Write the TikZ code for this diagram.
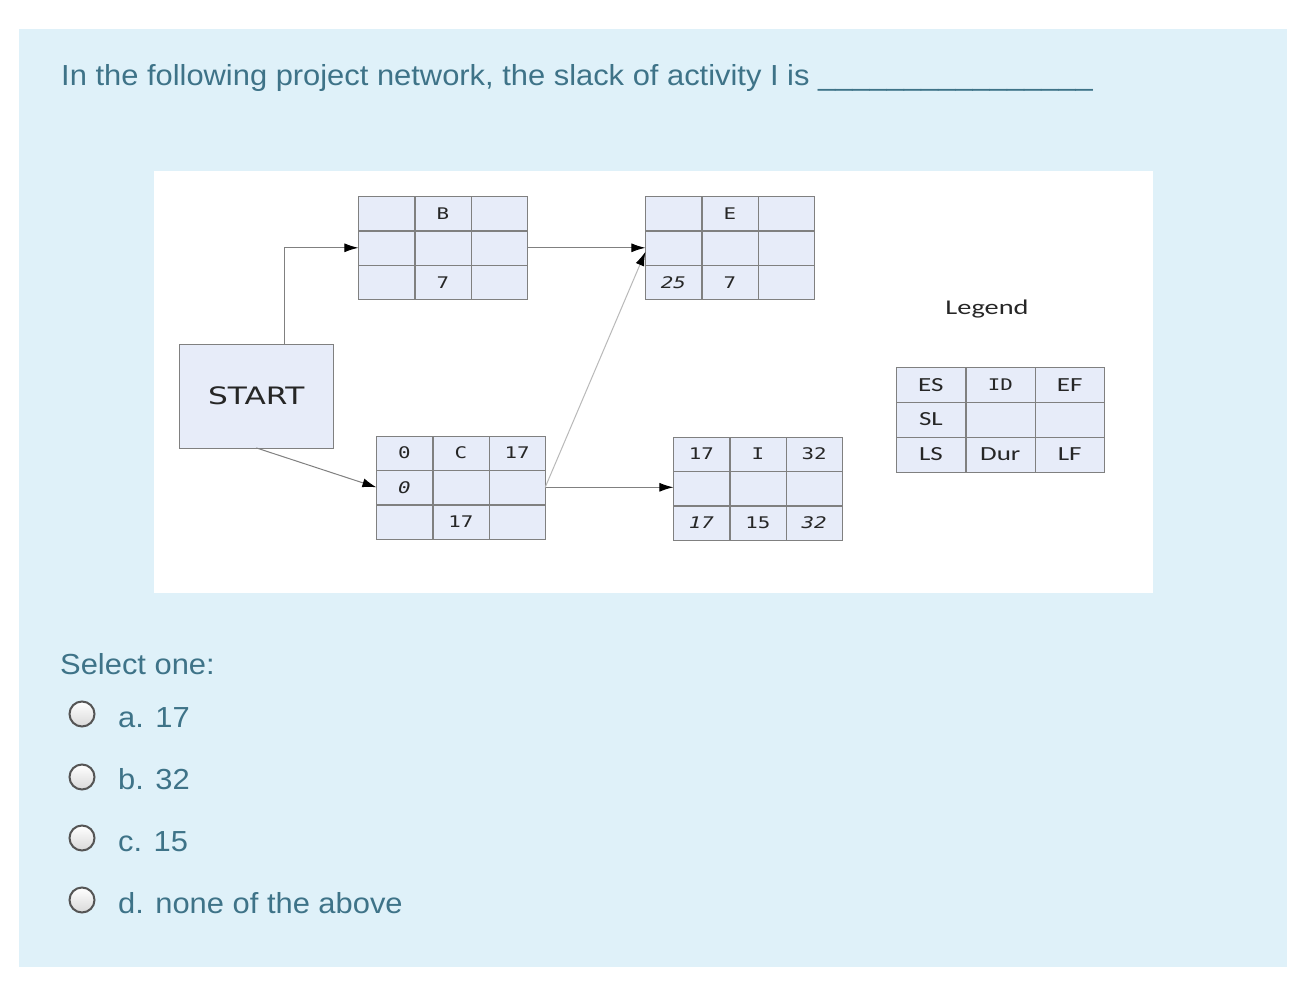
\documentclass[tikz,border=0pt]{standalone}
\usepackage{fontspec}
\setmainfont[FakeStretch=1.065]{Liberation Sans}
\newfontfamily\cellfont[FakeStretch=1.3]{DejaVu Sans Mono}
\newfontfamily\startfont[FakeStretch=1.3]{DejaVu Sans}
\newfontfamily\legendfont[FakeStretch=1.35]{Carlito}
\usetikzlibrary{matrix,arrows.meta,positioning}
\definecolor{panelblue}{RGB}{223,241,249}
\definecolor{qtext}{RGB}{62,115,136}
\definecolor{boxfill}{RGB}{231,236,249}
\definecolor{boxline}{RGB}{128,128,128}
\definecolor{radioline}{RGB}{85,85,85}

\begin{document}
\begin{tikzpicture}[x=1pt,y=-1pt,
    cell/.style={draw=boxline, fill=boxfill, outer sep=0pt, inner sep=0pt,
      anchor=center, minimum width=56pt, minimum height=34pt, text=black!85,
      font=\cellfont\fontsize{16}{16}\selectfont},
    activity/.style={matrix of nodes, nodes in empty cells, inner sep=0pt,
      column sep=0pt, row sep=0pt, anchor=north west, nodes={cell}},
    legendcell/.style={cell, minimum width=69pt, minimum height=34.5pt,
      font=\legendfont\fontsize{20}{20}\selectfont},
    link/.style={draw=gray, line width=1pt, -{Latex[black,length=14pt,width=9pt]}},
    faintlink/.style={link, draw=gray!55},
    question/.style={inner sep=0pt, anchor=base west, text=qtext,
      font=\fontsize{29}{35}\selectfont},
    radio/.style={circle, draw=radioline, line width=2pt, minimum size=25pt,
      top color=white, bottom color=gray!30}]
   \useasboundingbox (0,0) rectangle (1298,1004);
   \fill[white] (0,0) rectangle (1298,1004);
   \fill[panelblue] (19,29) rectangle (1287,967);
   \fill[white] (154,171) rectangle (1153,593);

   % question
   \node[question] (title) at (61,85) {In the following project network, the slack of activity I is \_\_\_\_\_\_\_\_\_\_\_\_\_\_\_\_};

   % network
   \node[draw=boxline, fill=boxfill, minimum width=154pt, minimum height=104pt,
     font=\startfont\fontsize{24}{24}\selectfont, text=black!85] (start) at (256.3,395.7) {START};

   \matrix[activity] (B) at (358,196) {
       & B & \\
       &   & \\
       & 7 & \\
   };
   \matrix[activity] (E) at (645,196) {
       & E & \\
       &   & \\
     \textit{25} & 7 & \\
   };
   \matrix[activity] (C) at (376,435.5) {
     0 & C & 17 \\
     \textit{0} & & \\
       & 17 & \\
   };
   \matrix[activity] (I) at (673,436.5) {
     17 & I & 32 \\
        &   &    \\
     \textit{17} & 15 & \textit{32} \\
   };

   \draw[link] ([xshift=28pt]start.north) |- (B-2-1.west);
   \draw[link] (B-2-3.east) -- (E-2-1.west);
   \draw[link] (start.south) -- (C-2-1.west);
   \draw[link] (C-2-3.east) -- (C-2-3.east -| I-2-1.west);
   \draw[faintlink] (C-2-3.east) -- ([yshift=-4pt]E-2-1.west);

   % legend
   \node[font=\legendfont\fontsize{21}{21}\selectfont, text=black!85] (legendtitle) at (987,309) {Legend};
   \matrix[activity, nodes={legendcell}] (L) at (896,367) {
     ES & |[font=\cellfont\fontsize{16}{16}\selectfont]| ID & EF \\
     SL &     &    \\
     LS & Dur & LF \\
   };

   % answers
   \node[question] (select) at (60,674) {Select one:};
   \node[radio] (ra) at (82,714) {};
   \node[radio] (rb) at (82,777) {};
   \node[radio] (rc) at (82,838) {};
   \node[radio] (rd) at (82,900) {};
   \node[question] (oa) at (118,727) {a. 17};
   \node[question] (ob) at (118,789) {b. 32};
   \node[question] (oc) at (118,851) {c. 15};
   \node[question] (od) at (118,913) {d. none of the above};
\end{tikzpicture}
\end{document}
